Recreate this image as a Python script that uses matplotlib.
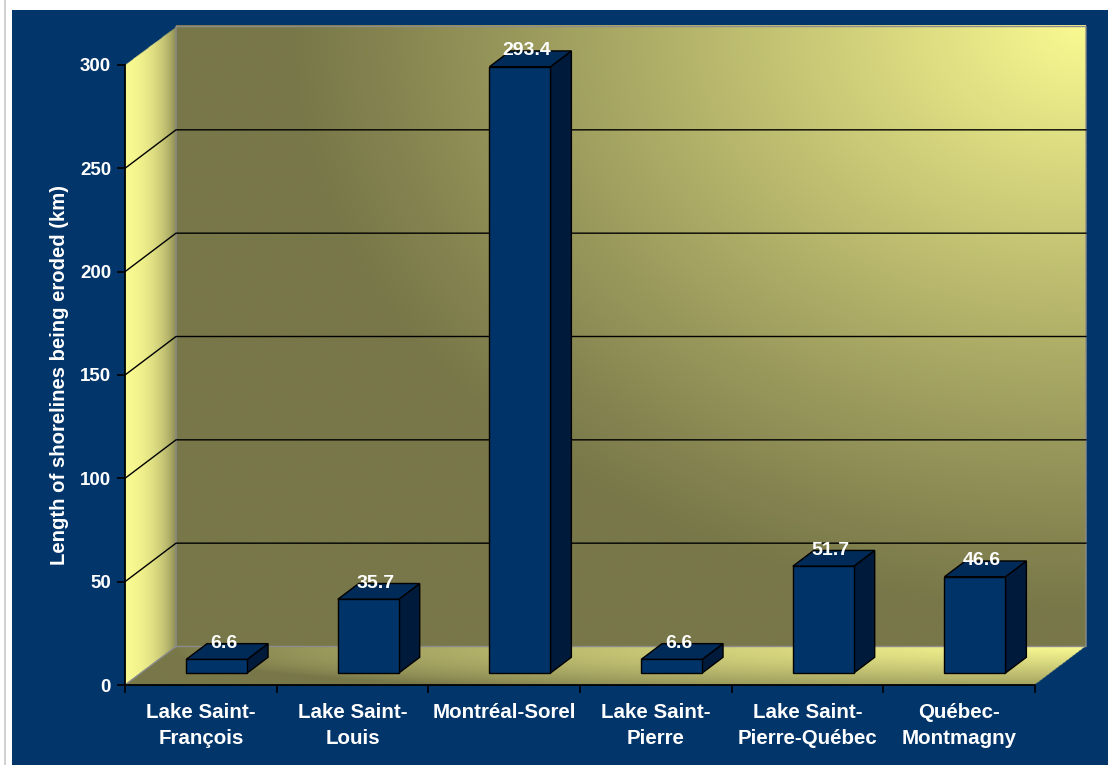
import numpy as np
import matplotlib
matplotlib.use("Agg")
import matplotlib.pyplot as plt
from matplotlib.patches import Rectangle, Polygon
from matplotlib.lines import Line2D

# ---- data ----
categories = ["Lake Saint-\nFrançois", "Lake Saint-\nLouis", "Montréal-Sorel",
              "Lake Saint-\nPierre", "Lake Saint-\nPierre-Québec", "Québec-\nMontmagny"]
values = [6.6, 35.7, 293.4, 6.6, 51.7, 46.6]
value_labels = ["6.6", "35.7", "293.4", "6.6", "51.7", "46.6"]
y_ticks = [0, 50, 100, 150, 200, 250, 300]
y_label = "Length of shorelines being eroded (km)"

# ---- style ----
BG = "#02356a"
BAR_FRONT = "#003468"
BAR_TOP = "#002a58"
BAR_SIDE = "#001a3c"
OLIVE = np.array([120, 119, 73]) / 255
YELLOW = np.array([250, 250, 146]) / 255
FONT = "Liberation Sans"

W_PX, H_PX = 1108, 765
fig = plt.figure(figsize=(W_PX / 100, H_PX / 100), dpi=100)
fig.patch.set_facecolor("white")
fig.add_artist(Rectangle((12 / W_PX, 0), 1 - 12 / W_PX, (H_PX - 10) / H_PX,
                         transform=fig.transFigure, facecolor=BG, edgecolor="none", zorder=0))
fig.add_artist(Line2D([4.5 / W_PX, 4.5 / W_PX], [0, 1], transform=fig.transFigure,
                      color="#c8c8c8", lw=1.2, zorder=0))

ax = fig.add_axes([125 / W_PX, 80 / H_PX, 910 / W_PX, 620 / H_PX])
ax.set_xlim(0, len(categories))
ax.set_ylim(0, 300)
ax.patch.set_visible(False)

n = len(categories)
DX = 51 / 910 * n        # depth offset in category units
DY = 38.5 / 620 * 300    # depth offset in value units


def shade(u, v, su, sv, gamma):
    r = np.sqrt((u / su) ** 2 + (v / sv) ** 2)
    s = np.clip(1 - r, 0, 1) ** gamma
    return OLIVE[None, None, :] + (YELLOW - OLIVE)[None, None, :] * s[:, :, None]


# back wall (rectangle): bright in the top-right corner
a = np.linspace(0, 1, 500)[None, :]
b = np.linspace(0, 1, 400)[:, None]
back = shade(1 - a, 1 - b, 0.88, 0.95, 1.1)
im = ax.imshow(back, extent=(DX, n + DX, DY, 300 + DY), origin="lower",
               aspect="auto", interpolation="bilinear", zorder=0.1)
im.set_clip_on(False)

# floor (parallelogram) drawn in its bounding box with transparent outside
xs = np.linspace(0, n + DX, 1200)[None, :]
ys = np.linspace(0, DY, 80)[:, None]
bb = ys / DY + 0 * xs
aa = (xs - bb * DX) / n
fl = shade(1 - aa, 1 - bb, 1.0, 1.3, 0.75)
alpha = ((aa >= 0) & (aa <= 1)).astype(float)
floor = np.dstack([fl, alpha])
im2 = ax.imshow(floor, extent=(0, n + DX, 0, DY), origin="lower", aspect="auto",
                interpolation="bilinear", zorder=0.2)
im2.set_clip_on(False)

# side wall (parallelogram)
xs = np.linspace(0, DX, 120)[None, :]
ys = np.linspace(0, 300 + DY, 700)[:, None]
aa = xs / DX + 0 * ys
bb = (ys - aa * DY) / 300
s = np.clip(1 - aa ** 1.8, 0, 1) ** 0.6
sw = OLIVE[None, None, :] + (YELLOW - OLIVE)[None, None, :] * s[:, :, None]
alpha = ((bb >= 0) & (bb <= 1)).astype(float)
side = np.dstack([sw, alpha])
im3 = ax.imshow(side, extent=(0, DX, 0, 300 + DY), origin="lower", aspect="auto",
                interpolation="bilinear", zorder=0.2)
im3.set_clip_on(False)

# wall edges
edge_kw = dict(color="#8c8c8c", lw=1.0, clip_on=False, zorder=0.5)
ax.plot([0, DX, n + DX, n + DX, DX, DX], [0, DY, DY, 300 + DY, 300 + DY, DY], **edge_kw)

# gridlines
for t in y_ticks[1:-1]:
    ax.plot([0, DX, n + DX], [t, t + DY, t + DY], color="black", lw=1.0,
            clip_on=False, zorder=0.6)

# bars
BW = 0.402
D0, D1 = 0.31, 0.72
dd = D1 - D0
for i, val in enumerate(values):
    x0 = i + 0.5 - BW / 2 + D0 * DX
    y0 = D0 * DY
    ex, ey = dd * DX, dd * DY
    front = Polygon([(x0, y0), (x0 + BW, y0), (x0 + BW, y0 + val), (x0, y0 + val)],
                    closed=True, facecolor=BAR_FRONT, edgecolor="black", lw=1.0,
                    clip_on=False, zorder=3)
    top = Polygon([(x0, y0 + val), (x0 + BW, y0 + val), (x0 + BW + ex, y0 + val + ey),
                   (x0 + ex, y0 + val + ey)], closed=True, facecolor=BAR_TOP,
                  edgecolor="black", lw=1.0, clip_on=False, zorder=3)
    sidep = Polygon([(x0 + BW, y0), (x0 + BW + ex, y0 + ey), (x0 + BW + ex, y0 + val + ey),
                     (x0 + BW, y0 + val)], closed=True, facecolor=BAR_SIDE,
                    edgecolor="black", lw=1.0, clip_on=False, zorder=3)
    for p in (sidep, top, front):
        ax.add_patch(p)
    ax.text(i + 0.5 + D0 * DX + 0.045, y0 + val + ey, value_labels[i], color="white",
            fontsize=14, fontweight="bold", family=FONT, ha="center", va="center",
            zorder=5, clip_on=False)

# axes / ticks
for sp in ("top", "right"):
    ax.spines[sp].set_visible(False)
for sp in ("left", "bottom"):
    ax.spines[sp].set_color("black")
    ax.spines[sp].set_linewidth(1.3)
    ax.spines[sp].set_zorder(4)

ax.set_yticks(y_ticks)
ax.set_yticklabels([str(t) for t in y_ticks])
ax.set_xticks(range(n + 1))
ax.set_xticklabels([""] * (n + 1))
ax.set_xticks([i + 0.5 for i in range(n)], minor=True)
ax.set_xticklabels(categories, minor=True)
ax.tick_params(axis="y", direction="out", length=6, width=1.2, color="black",
               labelcolor="white", labelsize=13.5, pad=4)
ax.tick_params(axis="x", which="major", direction="out", length=6, width=1.2, color="black")
ax.tick_params(axis="x", which="minor", length=0, labelcolor="white", labelsize=14.8, pad=13)
for lab in ax.get_yticklabels() + ax.get_xticklabels(minor=True):
    lab.set_fontweight("bold")
    lab.set_family(FONT)
for lab in ax.get_xticklabels(minor=True):
    lab.set_linespacing(1.45)
    lab.set_multialignment("center")

ax.set_ylabel(y_label, color="white", fontsize=14.6, fontweight="bold", family=FONT)
ax.yaxis.set_label_coords(-0.061, 0.5)

fig.savefig("out.png", dpi=100, facecolor=fig.get_facecolor())
